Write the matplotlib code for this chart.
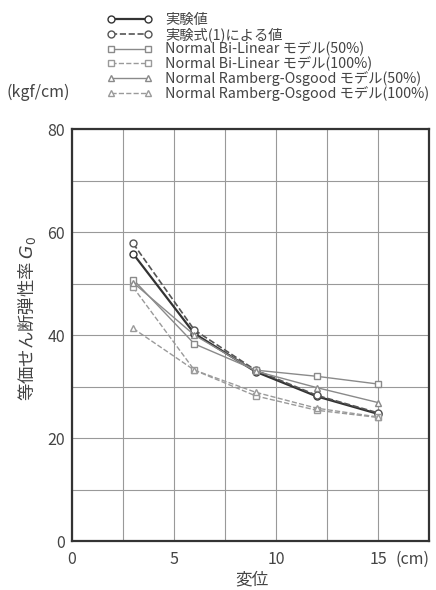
import matplotlib
matplotlib.use("Agg")
import matplotlib.pyplot as plt

plt.rcParams['font.family'] = ['Noto Sans CJK JP', 'DejaVu Sans']
plt.rcParams['mathtext.fontset'] = 'dejavusans'

disp = [3, 6, 9, 12, 15]
jikken = [55.8, 40.3, 32.9, 28.1, 24.7]
shiki1 = [57.8, 41.0, 33.2, 28.3, 24.9]
bl_50 = [50.8, 38.3, 33.2, 32.0, 30.5]
bl_100 = [49.3, 33.2, 28.2, 25.4, 24.0]
ro_50 = [50.2, 40.0, 33.0, 29.8, 26.9]
ro_100 = [41.3, 33.2, 28.9, 25.8, 24.1]

labels = ['実験値', '実験式(1)による値',
          'Normal Bi-Linear モデル(50%)', 'Normal Bi-Linear モデル(100%)',
          'Normal Ramberg-Osgood モデル(50%)', 'Normal Ramberg-Osgood モデル(100%)']

fig = plt.figure(figsize=(4.36, 5.90), dpi=100)
ax = fig.add_axes([0.165, 0.083, 0.819, 0.698])

series = [
    (jikken, 'o', '-', '#333333', 1.6),
    (shiki1, 'o', '--', '#555555', 1.2),
    (bl_50, 's', '-', '#8a8a8a', 1.0),
    (bl_100, 's', '--', '#9a9a9a', 1.0),
    (ro_50, '^', '-', '#8a8a8a', 1.0),
    (ro_100, '^', '--', '#9a9a9a', 1.0),
]
for (vals, mk, ls, col, lw), lab in zip(series, labels):
    ax.plot(disp, vals, marker=mk, linestyle=ls, color=col, linewidth=lw,
            markersize=5, markerfacecolor='white', markeredgecolor=col,
            markeredgewidth=1.0, label=lab)

ax.set_xlim(0, 17.5)
ax.set_ylim(0, 80)
ax.set_xticks([0, 5, 10, 15])
ax.set_yticks([0, 20, 40, 60, 80])
ax.set_xticks([2.5, 7.5, 12.5, 17.5], minor=True)
ax.set_yticks([10, 30, 50, 70], minor=True)
ax.grid(True, which='both', color='#999999', linewidth=0.8)
ax.tick_params(which='both', length=0, labelsize=11.5, labelcolor='#444444')
ax.tick_params(axis='x', pad=7)
ax.tick_params(axis='y', pad=5)
for sp in ax.spines.values():
    sp.set_linewidth(1.6)
    sp.set_color('#333333')

ax.set_ylabel('等価せん断弾性率 $G_0$', fontsize=12.5, color='#444444')
ax.yaxis.set_label_coords(-0.095, 0.54)
ax.set_xlabel('変位', fontsize=12, color='#444444', labelpad=0)
ax.xaxis.set_label_coords(0.504, -0.075)
ax.text(1.0, -0.045, '(cm)', transform=ax.transAxes, fontsize=11.5,
        style='italic', color='#444444', ha='right', va='center')
fig.text(0.015, 0.843, '(kgf/cm)', fontsize=11.5, style='italic',
         color='#444444', va='center')

fig.legend(loc='upper left', bbox_to_anchor=(0.228, 0.99), frameon=False,
           fontsize=10.3, handlelength=3.2, numpoints=2, labelspacing=0.0,
           handletextpad=0.9, borderpad=0, labelcolor='#444444')

fig.savefig('out.png', dpi=100)
